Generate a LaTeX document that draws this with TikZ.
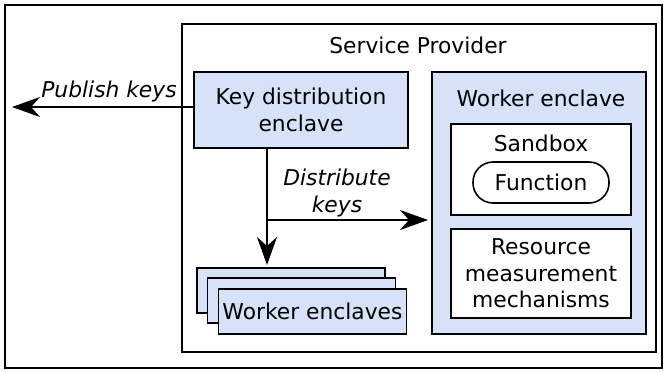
\documentclass[tikz,border=0pt]{standalone}
\usepackage{fontspec}
\setmainfont{DejaVu Sans}
\usepackage{tikz}
\usetikzlibrary{arrows.meta,positioning,calc}
\definecolor{enclBlue}{HTML}{D5E2F7}

\begin{document}
\begin{tikzpicture}[
  x=0.5pt, y=-0.5pt,
  every node/.style={font=\fontsize{10.9}{13.2}\selectfont},
  frame/.style={draw, line width=0.8pt, inner sep=0pt, outer sep=0pt},
  encl/.style={draw, line width=0.8pt, fill=enclBlue, align=center, inner sep=0pt, outer sep=0pt},
  inbox/.style={draw, line width=0.8pt, fill=white, align=center, inner sep=0pt, outer sep=0pt},
  lbl/.style={align=center, inner sep=0pt, font=\fontsize{10.9}{13.2}\selectfont\itshape},
  arr/.style={-{Stealth[length=14pt, width=10pt, inset=4.5pt]}, line width=0.8pt}
]
\useasboundingbox (0,0) rectangle (668,371);

% Frames
\node[frame, minimum width=328.5pt, minimum height=181.5pt] (page) at (333.5,186.5) {};
\node[frame, minimum width=237pt, minimum height=164pt] (sp) at (419,188) {};
\node[inner sep=0pt] (spL) at (418,45) {Service Provider};

% Key distribution enclave
\node[encl, minimum width=107pt, minimum height=38pt] (kde) at (301,110) {Key distribution\\enclave};

% Stacked worker enclaves
\node[encl, minimum width=94pt, minimum height=22.5pt] (wk1) at (291,290.5) {};
\node[encl, minimum width=94pt, minimum height=22.5pt] (wk2) at (301.5,300.5) {};
\node[encl, minimum width=94pt, minimum height=22.5pt] (wk3) at (312.5,311.5) {Worker enclaves};

% Worker enclave and its parts
\node[encl, minimum width=107pt, minimum height=131pt] (we) at (539,203) {};
\node[inner sep=0pt] (weL) at (541,98) {Worker enclave};
\node[inbox, minimum width=90pt, minimum height=45.5pt] (sb) at (541,169.5) {};
\node[inner sep=0pt] (sbL) at (541,143) {Sandbox};
\node[inbox, rounded corners=10pt, minimum width=68pt, minimum height=20.5pt] (fn) at (541,182.5) {Function};
\node[inbox, minimum width=90pt, minimum height=44.5pt] (rm) at (541,273.5) {Resource\\measurement\\mechanisms};

% Arrows and labels
\coordinate (pub) at (12,107);
\coordinate (split) at (267,220);
\draw[arr] (kde.west |- pub) -- (pub);
\node[lbl] (pubL) at (109,91) {Publish keys};
\draw[arr] (kde.south -| split) -- ($(split |- wk1.north)+(0,-3)$);
\draw[arr] (split) -- ($(we.west |- split)+(-4,0)$);
\node[lbl] (distL) at (337,193) {Distribute\\keys};
\end{tikzpicture}
\end{document}
